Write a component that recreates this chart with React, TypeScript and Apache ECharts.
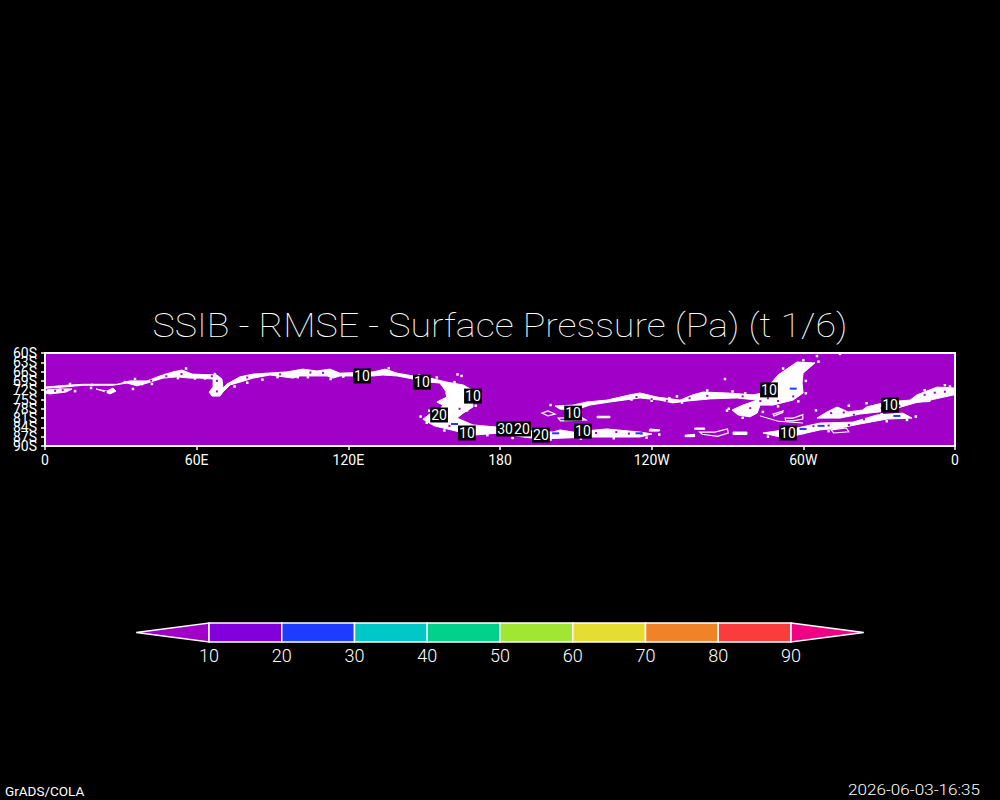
import React, { useEffect, useRef } from "react";
import * as echarts from "echarts";

const titleText = "SSIB - RMSE - Surface Pressure (Pa) (t 1/6)";
const lonTicks = [0, 60, 120, 180, 240, 300, 360];
const lonTickLabels = ["0", "60E", "120E", "180", "120W", "60W", "0"];
const latTicks = [-60, -63, -66, -69, -72, -75, -78, -81, -84, -87, -90];
const latTickLabels = ["60S", "63S", "66S", "69S", "72S", "75S", "78S", "81S", "84S", "87S", "90S"];
const levels = [10, 20, 30, 40, 50, 60, 70, 80, 90];
const bandColors = ["#a000c8", "#8200dc", "#1e3cff", "#00c8c8", "#00d28c", "#a0e632", "#e6dc32", "#f08228", "#fa3c3c", "#f00082"];

// Filled high-RMSE regions, [lon, lat]
const coastBand = [[0,-71],[8.7,-70.4],[15,-70.1],[28.5,-70.1],[33.6,-69],[40.4,-69],[45.5,-67.4],[50.6,-66.1],[54.2,-65.5],[58.2,-66.8],[68,-67.1],[70,-68.4],[70.4,-71.3],[72,-70],[77.1,-67.7],[82.3,-66.8],[87.8,-66.5],[95.7,-66.1],[102,-65.2],[107.6,-65.8],[112.7,-65.2],[116.7,-66.5],[129.8,-66.1],[134.5,-65.2],[139.3,-66.5],[145.6,-67.4],[152.3,-68.1],[159,-69.4],[165.4,-70.3],[168.9,-71.9],[169.3,-77.4],[165.4,-79.4],[163,-81],[169.3,-83.2],[178.8,-83.9],[185.1,-84.8],[201,-85.5],[203.7,-84.8],[208.9,-85.5],[222.3,-84.5],[235.4,-85.5],[240.1,-86.1],[235.4,-87.1],[227.5,-87.1],[216.8,-87.1],[206.5,-87.4],[195.8,-87.7],[189.1,-87.1],[180,-85.8],[169.3,-86.5],[164.2,-85.5],[154,-83.5],[149.5,-81.4],[152.3,-79.6],[156.3,-78.2],[157.4,-76.8],[155,-75.8],[159,-74.2],[158.2,-71.9],[156.2,-69.7],[152.3,-69.4],[145.6,-68.4],[139.3,-67.4],[133.7,-67.1],[129.8,-67.4],[116.7,-67.4],[113.9,-68.1],[111.6,-67.4],[100.9,-67.4],[98.1,-68.1],[89,-67.1],[82.3,-68.1],[77.1,-69.4],[73.2,-70.3],[70.4,-72.6],[69.2,-73.9],[66.1,-73.9],[64.9,-72.6],[66.5,-71],[66.5,-68.4],[61.3,-68.1],[57.4,-68.1],[52.2,-67.7],[46.7,-68.1],[40.4,-69.7],[36.4,-70.6],[32.4,-69.7],[26.9,-70.4],[15,-70.4],[8.7,-70.9],[0,-71.4]];
const westPatchA = [[0.8,-71.9],[5.9,-71.6],[10.7,-71.6],[8.3,-72.6],[2,-73.2],[0.5,-73]];
const westPatchB = [[20.2,-71.6],[24.5,-72.3],[26.9,-71.3],[28.1,-72.3],[25.7,-73.2],[22.9,-72.3]];
const midBand = [[201.8,-77.1],[208.9,-76.8],[214.4,-75.8],[222.3,-75.2],[231.4,-73.5],[235.4,-72.9],[242.1,-74.2],[251.2,-75.2],[256.3,-73.5],[260.3,-72.6],[269.8,-72.9],[280.1,-73.5],[284,-72.9],[290,-67.1],[297.5,-62.9],[304.6,-63.2],[299.9,-66.5],[299.5,-69.7],[299.9,-72.9],[295.9,-75.2],[288,-76.8],[282.9,-76.8],[281.7,-79.4],[278.9,-80.6],[274.2,-80],[271.8,-78.4],[276.1,-76.8],[281.7,-75.2],[273.8,-74.5],[263.1,-74.8],[254,-75.5],[248.4,-76.1],[243.3,-75.2],[235.4,-74.5],[223.5,-75.8],[215.6,-76.8],[209.7,-78.4],[203.7,-78.1]];
const eastUpper = [[305.4,-81],[309.4,-79],[313.4,-77.4],[317.7,-79],[323.4,-78.4],[325,-77.4],[333.1,-75.8],[342.2,-75.2],[345,-73.5],[352.9,-71],[359.6,-71.3],[359.6,-73.5],[350.1,-75.2],[344.2,-76.1],[337,-77.8],[330,-79],[322.4,-79.7],[314.5,-81]];
const eastLower = [[284,-85.8],[297.5,-84.2],[306.6,-82.6],[319.6,-82.3],[329.1,-80],[339.4,-79.4],[343,-81],[333.1,-81.3],[322.4,-82.9],[314.5,-84.2],[306.6,-84.8],[297.5,-86.5],[290.8,-87.1]];
const smallA = [[239.3,-84.5],[243.3,-84.8],[243,-85.2],[239,-85.2]];
const smallB = [[253.2,-86.5],[257,-86.2],[257,-87],[253.2,-87]];
const smallC = [[257,-84.2],[261,-84.2],[261,-84.6],[257,-84.6]];
const smallD = [[272.2,-85.5],[277.7,-85.5],[277.7,-86.3],[272.2,-86.3]];
const smallE = [[218.4,-80.4],[223.5,-80.4],[223.5,-80.9],[218.4,-80.9]];
const filledRegions = [coastBand, westPatchA, westPatchB, midBand, eastUpper, eastLower, smallA, smallB, smallC, smallD, smallE];

// Thin closed contour loops, [lon, lat]
const loopA = [[196.6,-79.4],[199,-78.7],[201.8,-79.7],[199,-80.3]];
const loopB = [[203,-81],[212,-80.7],[214,-81.6],[204,-81.9]];
const loopC = [[259,-85.5],[265,-85.5],[270,-84.5],[270.3,-85.8],[266,-86.9],[260,-86.2]];
const loopD = [[288,-79.7],[292,-78.7],[291.8,-79.2],[288.4,-80.3]];
const loopE = [[292.8,-81],[296,-81],[299.8,-79.9],[299.8,-81.3],[296,-81.9],[293,-81.9]];
const loopF = [[311,-84.8],[317,-84.2],[318,-85.4],[312,-85.8]];
const loopG = [[345,-74.5],[351,-73.8],[350,-75.6],[346,-75.8]];
const contourLoops = [loopA, loopB, loopC, loopD, loopE, loopF, loopG];
const thinContour = [[282.9,-80.3],[290,-82],[299.9,-82.6]];

const whiteDots = [[11.9,-72.3],[34.8,-71.6],[18.2,-71.3],[269,-68.4],[305.4,-61],[314.5,-60.3],[270.5,-78],[163.2,-66.9],[164.8,-67.4],
  [5.9,-71],[9.9,-70],[18.6,-70.3],[31.6,-69.4],[35.6,-68.4],[38.4,-70],[42.3,-70],[47.5,-67.1],[52.6,-68.1],[55.8,-65],[59.3,-68.2],[63.3,-68.2],[67.2,-66.8],[75,-70.8],[80,-69.6],[86,-68.6],[92,-67.8],[100,-67.8],[104,-67.8],[113,-68.4],[118,-67.6],[126,-67.6],[136,-64.9],[148,-67.2],[155,-67.9],[162,-69.4],[169.5,-72],[170.4,-75],[170.4,-77],[167,-78.5],[152,-78.6],[148.6,-80.5],[151,-82.5],[158,-85],[166,-86.6],[175,-86.5],[185,-87.4],[200,-87.9],[212,-87.6],[225,-87.5],[238,-87.3],[243,-86.3],
  [250,-74],[247,-74.6],[262,-72.1],[272,-72.4],[277,-73],[286,-71.5],[288,-69.5],[292,-65],[300,-62.3],[306,-62.8],[301,-69],[301,-73],[298,-75.6],[290,-77.2],[284,-79],[276,-80.9],[269.8,-78.6],[252,-76],[240,-75.4],[232,-75],[207,-78.6],[200,-76.8],
  [325,-76.2],[335,-74.9],[348,-72],[356,-70.4],[358,-70.8],[333,-82],[341,-81.6],[344.5,-80.5],[331,-79.7],[310,-85.2],[300,-85.8],[286,-87],[305,-78.5],[318,-77]];
const purpleHoles = [[4,-72.2],[7,-72],[24,-72.6],[42,-68.9],[48,-67.5],[54,-66.8],[66,-67.5],[68,-69],[68,-72.4],[80,-67.9],[93,-66.9],[105,-66.3],[110,-66.4],[154,-74.5],[158,-72.6],[164,-78],[154,-81.2],[160,-83.5],[234,-74.2],[240,-74.9],[246,-75.4],[255,-74.6],[262,-73.8],[276,-74],[283,-75.5],[279,-77.8],[290,-75.5],[296,-74],[286,-74.6],[311,-79.4],[316,-79.2],[320,-79.9],[331,-77.8],[338,-77],[348,-73.5],[352,-72.8],[356,-72.5],[304,-83.6],[310,-83.4],[318,-83.2],[324,-81.4],[226,-85.5],[231,-86],[236,-86],[218,-85.8],[215,-86.2]];
const blueSpots = [[162,-82.9],[202,-85.9],[235,-85.9],[299.9,-84.5],[307,-83.5],[337,-80.3],[296,-71.5]];

const contourLabels = [
  { lon: 125.4, lat: -67.4, text: "10" },
  { lon: 149.1, lat: -69.4, text: "10" },
  { lon: 169.3, lat: -73.9, text: "10" },
  { lon: 155.9, lat: -80, text: "20" },
  { lon: 166.9, lat: -85.8, text: "10" },
  { lon: 182, lat: -84.5, text: "30" },
  { lon: 188.7, lat: -84.5, text: "20" },
  { lon: 196.2, lat: -86.5, text: "20" },
  { lon: 212.8, lat: -85.2, text: "10" },
  { lon: 208.9, lat: -79.4, text: "10" },
  { lon: 286.4, lat: -71.9, text: "10" },
  { lon: 334.3, lat: -76.8, text: "10" },
  { lon: 293.9, lat: -85.8, text: "10" },
];

const FONT = "Roboto";

export default function App() {
  const ref = useRef<HTMLDivElement>(null);
  useEffect(() => {
    document.body.style.margin = "0";
    document.body.style.background = "#000";
    const chart = echarts.init(ref.current!, undefined, { renderer: "svg", width: 1000, height: 800 });
    const polyItem = (list: number[][][], fill: string | null, width: number) =>
      (_: any, api: any) => {
        const pts = list[api.value(0)].map((p) => api.coord(p));
        return {
          type: "polygon",
          shape: { points: pts },
          style: { fill: fill ?? "none", stroke: "#fff", lineWidth: width },
        };
      };
    chart.setOption({
      animation: false,
      backgroundColor: "#000",
      grid: [
        { left: 45, right: 45, top: 353, height: 93, show: true, backgroundColor: "#a000c8", borderColor: "#fff", borderWidth: 2 },
        { left: 136.25, width: 727.5, top: 623, height: 19 },
      ],
      xAxis: [
        {
          type: "value", gridIndex: 0, min: 0, max: 360, interval: 60,
          splitLine: { show: false },
          axisLine: { show: false },
          axisTick: { show: true, length: 4, lineStyle: { color: "#fff", width: 1.5 } },
          axisLabel: {
            color: "#fff", fontFamily: FONT, fontSize: 14, margin: 7,
            showMinLabel: true, showMaxLabel: true,
            formatter: (v: number) => lonTickLabels[lonTicks.indexOf(v)] ?? "",
          },
        },
        {
          type: "value", gridIndex: 1, min: 0, max: 100, interval: 10,
          splitLine: { show: false }, axisLine: { show: false }, axisTick: { show: false },
          axisLabel: {
            color: "#fff", fontFamily: FONT, fontWeight: 300, fontSize: 18, margin: 4,
            formatter: (v: number) => (levels.includes(v) ? String(v) : ""),
          },
        },
      ],
      yAxis: [
        {
          type: "value", gridIndex: 0, min: -90, max: -60, interval: 3,
          splitLine: { show: false },
          axisLine: { show: false },
          axisTick: { show: true, length: 4, lineStyle: { color: "#fff", width: 1.5 } },
          axisLabel: { show: false },
        },
        { type: "value", gridIndex: 1, min: 0, max: 1, show: false },
      ],
      series: [
        {
          type: "custom", xAxisIndex: 0, yAxisIndex: 0, z: 2, clip: true,
          data: filledRegions.map((_, i) => [i]),
          encode: { x: -1, y: -1 },
          renderItem: polyItem(filledRegions, "#fff", 1),
        },
        {
          type: "custom", xAxisIndex: 0, yAxisIndex: 0, z: 3, clip: true,
          data: contourLoops.map((_, i) => [i]),
          encode: { x: -1, y: -1 },
          renderItem: polyItem(contourLoops, null, 1.2),
        },
        {
          type: "line", xAxisIndex: 0, yAxisIndex: 0, z: 3, data: thinContour, showSymbol: false,
          lineStyle: { color: "#fff", width: 1 }, silent: true,
        },
        {
          type: "scatter", xAxisIndex: 0, yAxisIndex: 0, z: 3, data: whiteDots,
          symbol: "rect", symbolSize: 2.5, itemStyle: { color: "#fff", opacity: 1 }, silent: true,
        },
        {
          type: "scatter", xAxisIndex: 0, yAxisIndex: 0, z: 4, data: purpleHoles,
          symbol: "rect", symbolSize: 2, itemStyle: { color: "#a000c8", opacity: 1 }, silent: true,
        },
        {
          type: "scatter", xAxisIndex: 0, yAxisIndex: 0, z: 5, data: blueSpots,
          symbol: "rect", symbolSize: [7, 2], itemStyle: { color: "#1e3cff", opacity: 1 }, silent: true,
        },
        {
          type: "scatter", xAxisIndex: 0, yAxisIndex: 0, z: 6, symbolSize: 1,
          itemStyle: { color: "#000", opacity: 1 },
          data: contourLabels.map((d) => ({ value: [d.lon, d.lat], name: d.text })),
          label: {
            show: true, position: "inside", formatter: (p: any) => p.name, opacity: 1,
            color: "#fff", fontFamily: FONT, fontSize: 14, backgroundColor: "#000", padding: [1, 1, 0, 1],
          },
          silent: true,
        },
        {
          // latitude tick labels: the reference shows all eleven, overlapping
          type: "scatter", xAxisIndex: 0, yAxisIndex: 0, z: 6, symbolSize: 0, clip: false, silent: true,
          data: latTicks.map((lat, i) => ({ value: [0, lat], name: latTickLabels[i] })),
          labelLayout: { hideOverlap: false },
          label: {
            show: true, position: "left", distance: 8, formatter: (p: any) => p.name, opacity: 1,
            color: "#fff", fontFamily: FONT, fontSize: 14,
          },
        },
        {
          type: "custom", xAxisIndex: 1, yAxisIndex: 1, z: 2,
          data: bandColors.map((_, i) => [i]),
          encode: { x: -1, y: -1 },
          renderItem: (_: any, api: any) => {
            const i = api.value(0);
            const lo = i * 10, hi = (i + 1) * 10;
            const style = { fill: bandColors[i], stroke: "#fff", lineWidth: 1.5 };
            if (i === 0) {
              return { type: "polygon", shape: { points: [api.coord([lo, 0.5]), api.coord([hi, 1]), api.coord([hi, 0])] }, style };
            }
            if (i === bandColors.length - 1) {
              return { type: "polygon", shape: { points: [api.coord([lo, 1]), api.coord([hi, 0.5]), api.coord([lo, 0])] }, style };
            }
            return { type: "polygon", shape: { points: [api.coord([lo, 1]), api.coord([hi, 1]), api.coord([hi, 0]), api.coord([lo, 0])] }, style };
          },
        },
      ],
      graphic: [
        { type: "text", x: 500, y: 326, scaleX: 1.14, style: { text: titleText, fill: "#fff", font: `100 33px ${FONT}`, textAlign: "center", textVerticalAlign: "middle" } },
        { type: "text", x: 5, y: 791, style: { text: "GrADS/COLA", fill: "#fff", font: `13.5px ${FONT}`, textAlign: "left", textVerticalAlign: "middle" } },
        { type: "text", x: 980, y: 791, scaleX: 1.22, style: { text: "2026-06-03-16:35", fill: "#fff", font: `300 14px ${FONT}`, textAlign: "right", textVerticalAlign: "middle" } },
      ],
    });
    return () => chart.dispose();
  }, []);
  return <div ref={ref} style={{ position: "fixed", left: 0, top: 0, width: 1000, height: 800 }} />;
}
